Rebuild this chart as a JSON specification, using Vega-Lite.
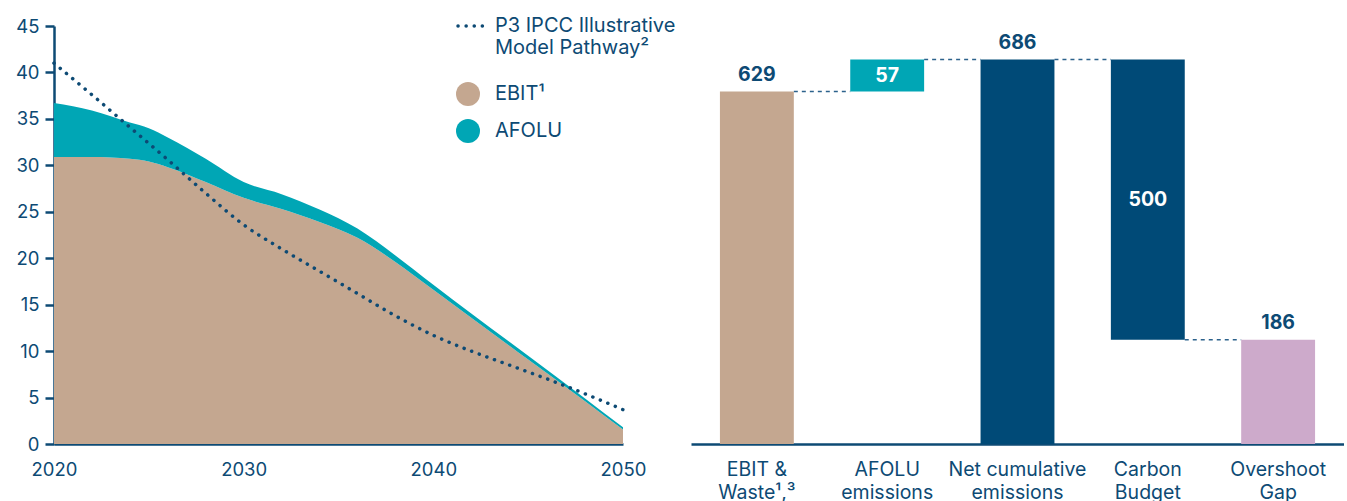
{
  "$schema": "https://vega.github.io/schema/vega-lite/v6.json",
  "background": "white",
  "padding": {"left": 15, "top": 11, "right": 0, "bottom": 0},
  "bounds": "flush",
  "spacing": 68,
  "config": {
    "view": {"stroke": null},
    "font": "Inter",
    "axis": {"labelFont": "Inter", "labelColor": "#0d4a74", "domainColor": "#0d4a74", "tickColor": "#0d4a74", "grid": false, "title": null},
    "legend": {"labelFont": "Inter", "labelColor": "#0d4a74", "labelFontSize": 20, "padding": 0, "labelLimit": 400}
  },
  "resolve": {"scale": {"x": "independent", "y": "independent", "color": "independent"}},
  "datasets": {
    "emissions": [
      {"year": 2020, "series": "EBIT¹", "value": 30.9}, {"year": 2020, "series": "AFOLU", "value": 5.8},
      {"year": 2022, "series": "EBIT¹", "value": 30.9}, {"year": 2022, "series": "AFOLU", "value": 5.0},
      {"year": 2024, "series": "EBIT¹", "value": 30.7}, {"year": 2024, "series": "AFOLU", "value": 3.9},
      {"year": 2025, "series": "EBIT¹", "value": 30.4}, {"year": 2025, "series": "AFOLU", "value": 3.6},
      {"year": 2026, "series": "EBIT¹", "value": 29.8}, {"year": 2026, "series": "AFOLU", "value": 3.2},
      {"year": 2028, "series": "EBIT¹", "value": 28.2}, {"year": 2028, "series": "AFOLU", "value": 2.5},
      {"year": 2030, "series": "EBIT¹", "value": 26.5}, {"year": 2030, "series": "AFOLU", "value": 1.7},
      {"year": 2032, "series": "EBIT¹", "value": 25.3}, {"year": 2032, "series": "AFOLU", "value": 1.6},
      {"year": 2034, "series": "EBIT¹", "value": 23.9}, {"year": 2034, "series": "AFOLU", "value": 1.35},
      {"year": 2036, "series": "EBIT¹", "value": 22.2}, {"year": 2036, "series": "AFOLU", "value": 1.0},
      {"year": 2038, "series": "EBIT¹", "value": 19.6}, {"year": 2038, "series": "AFOLU", "value": 0.7},
      {"year": 2040, "series": "EBIT¹", "value": 16.6}, {"year": 2040, "series": "AFOLU", "value": 0.55},
      {"year": 2042, "series": "EBIT¹", "value": 13.6}, {"year": 2042, "series": "AFOLU", "value": 0.45},
      {"year": 2045, "series": "EBIT¹", "value": 9.1}, {"year": 2045, "series": "AFOLU", "value": 0.4},
      {"year": 2048, "series": "EBIT¹", "value": 4.6}, {"year": 2048, "series": "AFOLU", "value": 0.3},
      {"year": 2050, "series": "EBIT¹", "value": 1.55}, {"year": 2050, "series": "AFOLU", "value": 0.25}
    ],
    "pathway": [
      {"year": 2020, "series": "P3 IPCC Illustrative|Model Pathway²", "value": 41.0},
      {"year": 2022, "series": "P3 IPCC Illustrative|Model Pathway²", "value": 37.6},
      {"year": 2024, "series": "P3 IPCC Illustrative|Model Pathway²", "value": 34.1},
      {"year": 2026, "series": "P3 IPCC Illustrative|Model Pathway²", "value": 30.6},
      {"year": 2028, "series": "P3 IPCC Illustrative|Model Pathway²", "value": 27.0},
      {"year": 2030, "series": "P3 IPCC Illustrative|Model Pathway²", "value": 23.6},
      {"year": 2032, "series": "P3 IPCC Illustrative|Model Pathway²", "value": 21.0},
      {"year": 2034, "series": "P3 IPCC Illustrative|Model Pathway²", "value": 18.6},
      {"year": 2036, "series": "P3 IPCC Illustrative|Model Pathway²", "value": 16.2},
      {"year": 2038, "series": "P3 IPCC Illustrative|Model Pathway²", "value": 13.8},
      {"year": 2040, "series": "P3 IPCC Illustrative|Model Pathway²", "value": 11.7},
      {"year": 2042, "series": "P3 IPCC Illustrative|Model Pathway²", "value": 10.0},
      {"year": 2044, "series": "P3 IPCC Illustrative|Model Pathway²", "value": 8.5},
      {"year": 2046, "series": "P3 IPCC Illustrative|Model Pathway²", "value": 7.0},
      {"year": 2048, "series": "P3 IPCC Illustrative|Model Pathway²", "value": 5.4},
      {"year": 2050, "series": "P3 IPCC Illustrative|Model Pathway²", "value": 3.7}
    ],
    "waterfall": [
      {"stage": "EBIT &|Waste¹,³", "start": 0, "end": 629, "amount": 629},
      {"stage": "AFOLU|emissions", "start": 629, "end": 686, "amount": 57},
      {"stage": "Net cumulative|emissions", "start": 0, "end": 686, "amount": 686},
      {"stage": "Carbon|Budget", "start": 186, "end": 686, "amount": 500},
      {"stage": "Overshoot|Gap", "start": 0, "end": 186, "amount": 186}
    ],
    "links": [
      {"from": "EBIT &|Waste¹,³", "to": "AFOLU|emissions", "value": 629},
      {"from": "AFOLU|emissions", "to": "Net cumulative|emissions", "value": 686},
      {"from": "Net cumulative|emissions", "to": "Carbon|Budget", "value": 686},
      {"from": "Carbon|Budget", "to": "Overshoot|Gap", "value": 186}
    ]
  },
  "hconcat": [
    {
      "width": 569,
      "height": 418,
      "layer": [
        {
          "data": {"name": "emissions"},
          "mark": {"type": "area", "interpolate": "monotone"},
          "encoding": {
            "x": {"field": "year", "type": "quantitative", "scale": {"domain": [2020, 2050], "nice": false, "zero": false},
                  "axis": {"values": [2020, 2030, 2040, 2050], "format": "d", "ticks": false, "domainWidth": 2.5, "labelFontSize": 18.5, "labelPadding": 16, "labelFlush": false}},
            "y": {"field": "value", "type": "quantitative", "stack": "zero", "scale": {"domain": [0, 45], "nice": false},
                  "axis": {"values": [0, 5, 10, 15, 20, 25, 30, 35, 40, 45], "domainWidth": 2.5, "tickWidth": 2.5, "tickSize": 9, "labelFontSize": 18.5, "labelPadding": 6}},
            "color": {"field": "series", "type": "nominal",
                      "scale": {"domain": ["EBIT¹", "AFOLU"], "range": ["#C4A790", "#00A6B5"]},
                      "legend": {"orient": "none", "legendX": 402, "legendY": 56, "title": null, "symbolType": "circle", "symbolSize": 576, "symbolStrokeWidth": 0, "labelOffset": 15, "rowPadding": 13}},
            "order": {"field": "series", "sort": "descending"}
          }
        },
        {
          "data": {"name": "pathway"},
          "mark": {"type": "line", "interpolate": "monotone", "strokeDash": [0.1, 8], "strokeWidth": 3.5, "strokeCap": "round"},
          "encoding": {
            "x": {"field": "year", "type": "quantitative"},
            "y": {"field": "value", "type": "quantitative"},
            "stroke": {"field": "series", "type": "nominal", "scale": {"range": ["#0d4a74"]},
                       "legend": {"orient": "none", "legendX": 402, "legendY": -15, "title": null, "symbolType": "stroke", "symbolSize": 676, "symbolStrokeWidth": 3.5, "symbolDash": [0.1, 8], "labelOffset": 9, "labelExpr": "split(datum.label, '|')", "labelLineHeight": 23, "labelLimit": 400,
                                  "encode": {"symbols": {"update": {"strokeCap": {"value": "round"}}}}}}
          }
        }
      ]
    },
    {
      "width": 653,
      "height": 418,
      "layer": [
        {
          "data": {"name": "links"},
          "mark": {"type": "rule", "strokeDash": [4, 4], "strokeWidth": 1.5, "color": "#2c628c"},
          "encoding": {
            "x": {"field": "from", "type": "nominal", "bandPosition": 1,
                  "scale": {"domain": ["EBIT &|Waste¹,³", "AFOLU|emissions", "Net cumulative|emissions", "Carbon|Budget", "Overshoot|Gap"], "paddingInner": 0.433, "paddingOuter": 0.222}},
            "x2": {"field": "to", "bandPosition": 0},
            "y": {"field": "value", "type": "quantitative", "scale": {"domain": [0, 746], "nice": false}}
          }
        },
        {
          "data": {"name": "waterfall"},
          "mark": {"type": "bar"},
          "encoding": {
            "x": {"field": "stage", "type": "nominal", "sort": null,
                  "scale": {"domain": ["EBIT &|Waste¹,³", "AFOLU|emissions", "Net cumulative|emissions", "Carbon|Budget", "Overshoot|Gap"], "paddingInner": 0.433, "paddingOuter": 0.222},
                  "axis": {"labelExpr": "split(datum.label, '|')", "labelAngle": 0, "labelAlign": "center", "ticks": false, "domainWidth": 2.5, "labelFontSize": 19.5, "labelLineHeight": 23, "labelPadding": 16, "labelBaseline": "top"}},
            "y": {"field": "start", "type": "quantitative", "scale": {"domain": [0, 746], "nice": false}, "axis": null},
            "y2": {"field": "end"},
            "color": {"field": "stage", "type": "nominal",
                      "scale": {"domain": ["EBIT &|Waste¹,³", "AFOLU|emissions", "Net cumulative|emissions", "Carbon|Budget", "Overshoot|Gap"],
                                "range": ["#C4A790", "#00A6B5", "#004A77", "#004A77", "#CDAACB"]},
                      "legend": null}
          }
        },
        {
          "data": {"name": "waterfall"},
          "transform": [{"filter": "datum.amount == 629 || datum.amount == 686 || datum.amount == 186"}],
          "mark": {"type": "text", "fontWeight": "bold", "fontSize": 19.5, "color": "#0d4a74", "dy": -17, "baseline": "middle"},
          "encoding": {
            "x": {"field": "stage", "type": "nominal"},
            "y": {"field": "end", "type": "quantitative"},
            "text": {"field": "amount", "type": "quantitative"}
          }
        },
        {
          "data": {"name": "waterfall"},
          "transform": [{"filter": "datum.amount == 57 || datum.amount == 500"}, {"calculate": "(datum.start + datum.end) / 2", "as": "mid"}],
          "mark": {"type": "text", "fontWeight": "bold", "fontSize": 19.5, "color": "white", "baseline": "middle"},
          "encoding": {
            "x": {"field": "stage", "type": "nominal"},
            "y": {"field": "mid", "type": "quantitative"},
            "text": {"field": "amount", "type": "quantitative"}
          }
        }
      ]
    }
  ]
}
